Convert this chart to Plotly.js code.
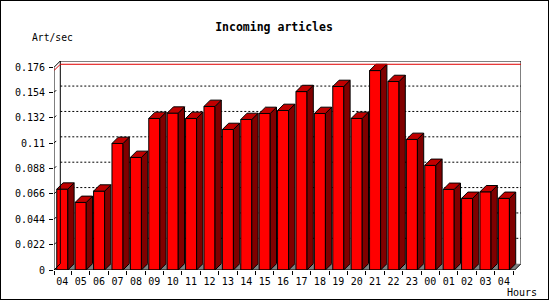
<!DOCTYPE html>
<html>
<head>
<meta charset="utf-8">
<script src="https://cdn.plot.ly/plotly-3.0.1.min.js"></script>
<style>
html,body{margin:0;padding:0;background:#fff;}
#wrap{position:relative;width:550px;height:300px;}
#chart{width:550px;height:300px;}
#border{position:absolute;left:0;top:0;width:549px;height:300px;box-sizing:border-box;border:1px solid #000;pointer-events:none;}
</style>
</head>
<body>
<div id="wrap"><div id="chart"></div><div id="border"></div></div>
<script>
// ---- data ----
var hours = ["04","05","06","07","08","09","10","11","12","13","14","15","16","17","18","19","20","21","22","23","00","01","02","03","04"];
var rates = [0.0701,0.0586,0.0684,0.1097,0.0976,0.1314,0.1360,0.1314,0.1418,0.1218,0.1305,0.1357,0.1383,0.1547,0.1357,0.1591,0.1314,0.1729,0.1634,0.1132,0.0907,0.0699,0.0621,0.0678,0.0621];
var yTickVals = [0,0.022,0.044,0.066,0.088,0.11,0.132,0.154,0.176];
var yTickText = ["0","0.022","0.044","0.066","0.088","0.11","0.132","0.154","0.176"];

// ---- geometry (in axis units) ----
var ML = 54, MR = 29, MT = 61, MB = 30;
var plotW = 550 - ML - MR, plotH = 300 - MT - MB;
var xr = [-0.451, 24.93];
var yr = [0, 0.1812];
var pxX = plotW / (xr[1] - xr[0]);
var pxY = plotH / (yr[1] - yr[0]);
var DX = 6.3 / pxX, DY = 6.3 / pxY;
var BW = 0.6;

var xs = hours.map(function(_, i){ return i; });

// side and top faces
var sx = [], sy = [], tx = [], ty = [];
for (var i = 0; i < xs.length; i++) {
  var l = xs[i] - BW/2, r = xs[i] + BW/2, v = rates[i];
  sx.push(r, r + DX, r + DX, r, r, null);
  sy.push(0, DY, v + DY, v, 0, null);
  tx.push(l, l + DX, r + DX, r, l, null);
  ty.push(v, v + DY, v + DY, v, v, null);
}

var traces = [
  {type:'scatter', x:sx, y:sy, mode:'lines', fill:'toself', fillcolor:'#800000',
   line:{color:'#000', width:1}, hoverinfo:'skip', showlegend:false},
  {type:'scatter', x:tx, y:ty, mode:'lines', fill:'toself', fillcolor:'#c00000',
   line:{color:'#000', width:1}, hoverinfo:'skip', showlegend:false},
  {type:'bar', x:xs, y:rates, width:BW, marker:{color:'#ff0000', line:{color:'#000', width:1}},
   hoverinfo:'skip', showlegend:false}
];

var shapes = [];
// floor
shapes.push({type:'path', xref:'x', yref:'y', layer:'below',
  path:'M'+xr[0]+',0 L'+(xr[0]+DX)+','+DY+' L'+xr[1]+','+DY+' L'+(xr[1]-DX)+',0 Z',
  fillcolor:'#808080', line:{width:0}});
// grid lines on back wall
for (var k = 1; k < yTickVals.length - 1; k++) {
  var gv = yTickVals[k] + DY;
  shapes.push({type:'line', xref:'x', yref:'y', layer:'below', x0:xr[0]+DX, x1:xr[1], y0:gv, y1:gv,
    line:{color:'#000', width:1, dash:'2px,2px'}});
  shapes.push({type:'line', xref:'x', yref:'y', x0:xr[0], x1:xr[0]+DX*0.35, y0:yTickVals[k], y1:yTickVals[k]+DY*0.35,
    line:{color:'#000', width:1}});
}
var frame = {color:'#000', width:1};
// back wall frame
shapes.push({type:'line', xref:'x', yref:'y', x0:xr[0]+DX, x1:xr[1], y0:yr[1], y1:yr[1], line:frame});
shapes.push({type:'line', xref:'x', yref:'y', x0:xr[1], x1:xr[1], y0:DY, y1:yr[1], line:frame});
shapes.push({type:'line', xref:'x', yref:'y', x0:xr[0]+DX, x1:xr[0]+DX, y0:DY, y1:yr[1], line:frame});
// front axes
shapes.push({type:'line', xref:'x', yref:'y', x0:xr[0], x1:xr[0], y0:0, y1:yr[1]-DY, line:frame});
shapes.push({type:'line', xref:'x', yref:'y', x0:xr[0], x1:xr[1]-DX, y0:0, y1:0, line:frame});
shapes.push({type:'line', xref:'x', yref:'y', x0:xr[0], x1:xr[0]+DX, y0:0, y1:DY, line:frame});
shapes.push({type:'line', xref:'x', yref:'y', x0:xr[1]-DX, x1:xr[1], y0:0, y1:DY, line:frame});
shapes.push({type:'line', xref:'x', yref:'y', x0:xr[0], x1:xr[0]+DX, y0:yr[1]-DY, y1:yr[1], line:frame});
// max line
var mx = Math.max.apply(null, rates);
shapes.push({type:'line', xref:'x', yref:'y', x0:xr[0]+DX, x1:xr[1], y0:mx+DY, y1:mx+DY, line:{color:'#e00000', width:1}});
shapes.push({type:'line', xref:'x', yref:'y', x0:xr[0], x1:xr[0]+DX, y0:mx, y1:mx+DY, line:{color:'#e00000', width:1}});

var bounds = [xr[0]];
for (var j = 0; j < hours.length; j++) bounds.push(j + 0.5);

var FONT = 'DejaVu Sans Mono';
var layout = {
  width:550, height:300,
  margin:{l:ML, r:MR, t:MT, b:MB, pad:0},
  paper_bgcolor:'#fff', plot_bgcolor:'rgba(0,0,0,0)',
  font:{family:FONT, size:10, color:'#000'},
  title:{text:'<b>Incoming articles</b>', font:{family:FONT, size:11.5, color:'#000'},
    xref:'container', x:274/550, xanchor:'center', yref:'container', y:1-27/300, yanchor:'middle'},
  xaxis:{range:xr, showgrid:false, zeroline:false, showline:false,
    tickvals:xs, ticktext:hours, ticks:'', ticklabelstandoff:4,
    tickfont:{family:FONT, size:10, color:'#000'},
    minor:{tickvals:bounds, ticks:'outside', ticklen:4, tickcolor:'#000', tickwidth:1, showgrid:false}},
  yaxis:{range:yr, showgrid:false, zeroline:false, showline:false,
    tickvals:yTickVals, ticktext:yTickText, ticks:'outside', ticklen:4, tickcolor:'#000', tickwidth:1,
    ticklabelstandoff:2, tickfont:{family:FONT, size:10, color:'#000'}},
  shapes:shapes,
  annotations:[
    {text:'Art/sec', xref:'paper', yref:'paper', x:(30-ML)/plotW, y:(270-37)/plotH, xanchor:'left', yanchor:'middle',
     showarrow:false, font:{family:FONT, size:9.7, color:'#000'}},
    {text:'Hours', xref:'paper', yref:'paper', x:(505-ML)/plotW, y:(270-292)/plotH, xanchor:'left', yanchor:'middle',
     showarrow:false, font:{family:FONT, size:10, color:'#000'}}
  ],
  bargap:0, showlegend:false
};
Plotly.newPlot('chart', traces, layout, {staticPlot:true, displayModeBar:false});
</script>
</body>
</html>
